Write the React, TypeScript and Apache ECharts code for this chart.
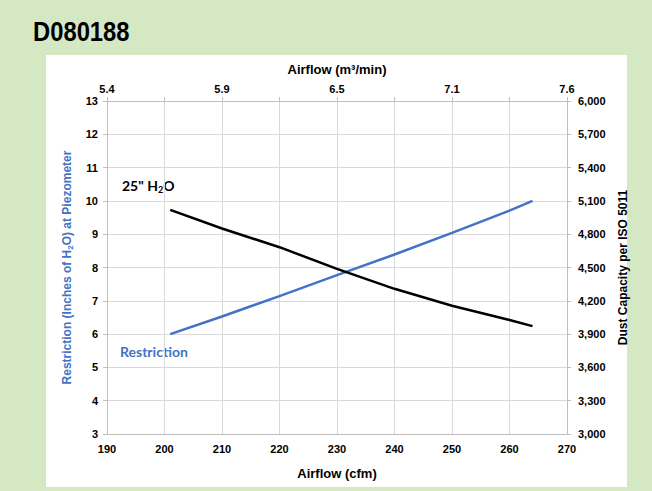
import React, { useEffect, useRef } from "react";
import * as echarts from "echarts";

const airflowCfm = [201, 210, 220, 230, 240, 250, 260, 264];
const restriction = [6.0, 6.53, 7.14, 7.77, 8.39, 9.04, 9.71, 10.0];
const dustCapacity = [5019, 4851, 4683, 4488, 4308, 4155, 4027, 3972];
const topTickLabels = ["5.4", "5.9", "6.5", "7.1", "7.6"];

const FONT = "'Liberation Sans', Arial, sans-serif";
const LABEL_FONT = "Lato, 'Open Sans', sans-serif";
const BLUE = "#4472c4";

export default function App() {
  const ref = useRef<HTMLDivElement>(null);
  useEffect(() => {
    document.body.style.margin = "0";
    const chart = echarts.init(ref.current!, null, { renderer: "svg" });
    const tickStyle = { color: "#000", fontWeight: "bold" as const, fontSize: 11, fontFamily: FONT };
    chart.setOption({
      animation: false,
      backgroundColor: "#d5e8c4",
      graphic: [
        { type: "rect", shape: { x: 46, y: 55, width: 581, height: 432 }, style: { fill: "#ffffff" }, z: -10 },
        {
          type: "text", x: 33, y: 17, scaleX: 0.85,
          style: { text: "D080188", fontFamily: FONT, fontWeight: "bold", fontSize: 28, fill: "#000" },
        },
        {
          type: "text", left: 122, top: 178,
          style: {
            text: '{a|25" H}{s|2}{a|O}',
            rich: {
              a: { fontFamily: LABEL_FONT, fontWeight: "bold", fontSize: 14, fill: "#000", lineHeight: 18, verticalAlign: "middle" },
              s: { fontFamily: LABEL_FONT, fontWeight: "bold", fontSize: 9, fill: "#000", lineHeight: 9, verticalAlign: "bottom" },
            },
          },
        },
        {
          type: "text", left: 120, top: 344,
          style: { text: "Restriction", fontFamily: LABEL_FONT, fontWeight: "bold", fontSize: 14, fill: BLUE },
        },
      ],
      grid: { left: 107, right: 85, top: 101, bottom: 57 },
      xAxis: [
        {
          type: "value", position: "bottom", min: 190, max: 270, interval: 10,
          name: "Airflow (cfm)", nameLocation: "middle", nameGap: 33,
          nameTextStyle: { color: "#000", fontWeight: "bold", fontSize: 13, fontFamily: FONT },
          axisLine: { show: true, lineStyle: { color: "#bfbfbf", width: 1 } },
          axisTick: { show: false },
          axisLabel: { ...tickStyle, margin: 9 },
          splitLine: { show: true, lineStyle: { color: "#d9d9d9", width: 1 } },
        },
        {
          type: "value", position: "top", min: 190, max: 270, interval: 10,
          name: "Airflow (m³/min)", nameLocation: "middle", nameGap: 25,
          nameTextStyle: { color: "#000", fontWeight: "bold", fontSize: 13, fontFamily: FONT },
          axisLine: { show: true, lineStyle: { color: "#bfbfbf", width: 1 } },
          axisTick: { show: true, length: 4, lineStyle: { color: "#bfbfbf" } },
          axisLabel: {
            ...tickStyle, margin: 7,
            formatter: (v: number) => ((v - 190) % 20 === 0 ? topTickLabels[(v - 190) / 20] : ""),
          },
          splitLine: { show: false },
        },
      ],
      yAxis: [
        {
          type: "value", position: "left", min: 3, max: 13, interval: 1,
          name: "{a|Restriction (Inches of H}{s|2}{a|O) at Piezometer}", nameLocation: "middle", nameGap: 24,
          nameTextStyle: {
            rich: {
              a: { color: BLUE, fontWeight: "bold", fontSize: 12, fontFamily: FONT, lineHeight: 16, verticalAlign: "middle" },
              s: { color: BLUE, fontWeight: "bold", fontSize: 8, fontFamily: FONT, lineHeight: 8, verticalAlign: "bottom" },
            },
          },
          axisLine: { show: true, lineStyle: { color: "#bfbfbf", width: 1 } },
          axisTick: { show: true, length: 4, lineStyle: { color: "#bfbfbf" } },
          axisLabel: { ...tickStyle, margin: 9 },
          splitLine: { show: true, lineStyle: { color: "#d9d9d9", width: 1 } },
        },
        {
          type: "value", position: "right", min: 3000, max: 6000, interval: 300,
          name: "Dust Capacity per ISO 5011", nameLocation: "middle", nameGap: 50,
          nameTextStyle: { color: "#000", fontWeight: "bold", fontSize: 12, fontFamily: FONT },
          axisLine: { show: true, lineStyle: { color: "#bfbfbf", width: 1 } },
          axisTick: { show: true, length: 4, lineStyle: { color: "#bfbfbf" } },
          axisLabel: { ...tickStyle, margin: 11, formatter: (v: number) => v.toLocaleString("en-US") },
          splitLine: { show: false },
        },
      ],
      series: [
        {
          type: "line", name: "Restriction", xAxisIndex: 0, yAxisIndex: 0, smooth: false, symbol: "none",
          lineStyle: { color: BLUE, width: 2.5 },
          data: airflowCfm.map((x, i) => [x, restriction[i]]),
        },
        {
          type: "line", name: "Dust Capacity", xAxisIndex: 0, yAxisIndex: 1, smooth: false, symbol: "none",
          lineStyle: { color: "#000", width: 2.5 },
          data: airflowCfm.map((x, i) => [x, dustCapacity[i]]),
        },
      ],
    });
    return () => chart.dispose();
  }, []);
  return <div ref={ref} style={{ position: "fixed", left: 0, top: 0, width: 652, height: 491 }} />;
}
